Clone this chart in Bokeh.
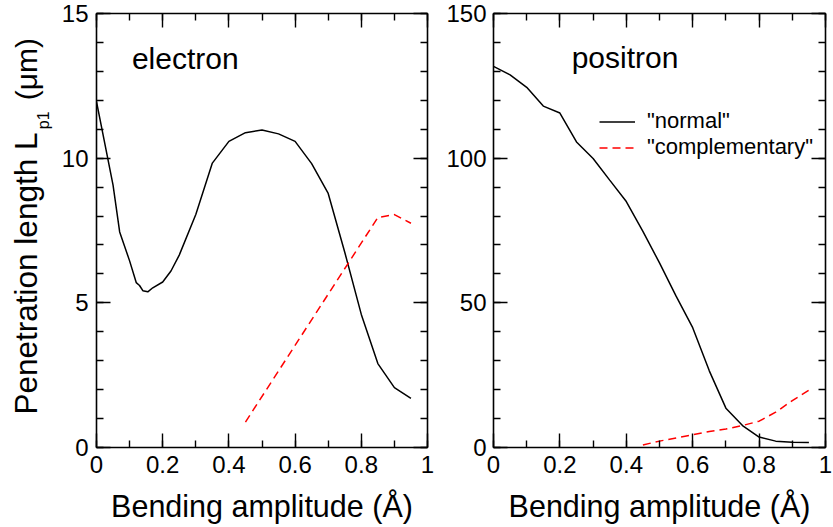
import numpy as np
from bokeh.plotting import figure
from bokeh.models import (LinearAxis, Range1d, SingleIntervalTicker, Label,
                          Legend, LegendItem)
from bokeh.layouts import row
from bokeh.embed import file_html
from bokeh.resources import INLINE
from bokeh.core.properties import value

FONT = "Liberation Sans"

# ---------------- data ----------------
# electron, "normal"
e_norm_x = [0.0, 0.05, 0.07, 0.1, 0.12, 0.13, 0.14, 0.155, 0.17, 0.2, 0.225, 0.25,
            0.3, 0.35, 0.4, 0.45, 0.5, 0.55, 0.6, 0.65, 0.7, 0.75, 0.8, 0.85, 0.9, 0.95]
e_norm_y = [11.95, 9.07, 7.45, 6.45, 5.7, 5.6, 5.42, 5.38, 5.52, 5.72, 6.1, 6.65,
            8.05, 9.83, 10.58, 10.88, 10.97, 10.84, 10.58, 9.81, 8.78, 6.75, 4.6, 2.9, 2.07, 1.7]
# electron, "complementary"
e_comp_x = [0.45, 0.85, 0.9, 0.95]
e_comp_y = [0.88, 7.95, 8.05, 7.75]

# positron, "normal"
p_norm_x = [0.0, 0.05, 0.1, 0.15, 0.2, 0.25, 0.3, 0.35, 0.4, 0.45, 0.5, 0.55, 0.6,
            0.65, 0.7, 0.75, 0.8, 0.85, 0.9, 0.95]
p_norm_y = [131.7, 128.8, 124.5, 118.0, 115.6, 105.6, 99.9, 92.4, 85.0, 74.7, 63.8,
            52.3, 41.4, 26.5, 13.6, 7.6, 3.6, 2.2, 1.8, 1.7]
# positron, "complementary"
p_comp_x = [0.45, 0.5, 0.55, 0.6, 0.65, 0.7, 0.75, 0.8, 0.85, 0.9, 0.95]
p_comp_y = [0.9, 2.2, 3.3, 4.4, 5.5, 6.4, 7.6, 9.1, 12.2, 16.2, 19.8]

x_label = "Bending amplitude (Å)"
y_label_main = "Penetration length L"
y_label_sub = "p1"
y_label_unit = "(μm)"
series_names = ['"normal"', '"complementary"']

LINE_W = 1.5
DASH = "8 5"
HEIGHT = 525
FRAME_TOP = 13
FRAME_H = 436
FRAME_BOTTOM = FRAME_TOP + FRAME_H
LBL_W = 58          # width of the strip holding the y-axis title


def style_axis(ax, show_labels, standoff=8):
    ax.axis_line_width = 1.6
    ax.axis_line_color = "black"
    ax.major_tick_in = 14
    ax.major_tick_out = 0
    ax.minor_tick_in = 7
    ax.minor_tick_out = 0
    ax.major_tick_line_width = 1.4
    ax.minor_tick_line_width = 1.4
    ax.major_tick_line_color = "black"
    ax.minor_tick_line_color = "black"
    ax.major_label_text_font = FONT
    if show_labels:
        ax.major_label_text_color = "black"
        ax.major_label_text_font_size = "24px"
        ax.major_label_standoff = standoff
    else:
        ax.major_label_text_color = None
        ax.major_label_text_font_size = "1px"
        ax.major_label_standoff = 0


def make_panel(width, left, right, ymax, yint, ystand):
    p = figure(width=width, height=HEIGHT, x_range=Range1d(0, 1), y_range=Range1d(0, ymax),
               output_backend="svg", toolbar_location=None,
               min_border_left=left, min_border_right=right,
               min_border_top=FRAME_TOP, min_border_bottom=HEIGHT - FRAME_BOTTOM)
    p.xgrid.visible = False
    p.ygrid.visible = False
    p.outline_line_color = None
    p.background_fill_color = "white"
    p.border_fill_color = "white"

    p.xaxis.ticker = SingleIntervalTicker(interval=0.2, num_minor_ticks=2)
    p.yaxis.ticker = SingleIntervalTicker(interval=yint, num_minor_ticks=5)
    p.xaxis.major_label_overrides = {0: "0", 1: "1"}
    for ax in p.xaxis:
        style_axis(ax, True, 8)
        ax.axis_label = x_label
        ax.axis_label_text_font = FONT
        ax.axis_label_text_font_size = "30.5px"
        ax.axis_label_text_font_style = "normal"
        ax.axis_label_text_color = "black"
        ax.axis_label_standoff = 13
    for ax in p.yaxis:
        style_axis(ax, True, ystand)

    top = LinearAxis(ticker=SingleIntervalTicker(interval=0.2, num_minor_ticks=2))
    rgt = LinearAxis(ticker=SingleIntervalTicker(interval=yint, num_minor_ticks=5))
    style_axis(top, False)
    style_axis(rgt, False)
    p.add_layout(top, "above")
    p.add_layout(rgt, "right")
    return p


# ---------------- strip with the y-axis title (rotated, with subscript) ----------------
p0 = figure(width=LBL_W, height=HEIGHT, x_range=Range1d(0, LBL_W), y_range=Range1d(0, HEIGHT),
            output_backend="svg", toolbar_location=None, x_axis_type=None, y_axis_type=None,
            min_border_left=0, min_border_right=0, min_border_top=0, min_border_bottom=0)
p0.xgrid.visible = False
p0.ygrid.visible = False
p0.outline_line_color = None
p0.background_fill_color = "white"
p0.border_fill_color = "white"
# main part ends just below the subscript
p0.text(x=[25.6], y=[HEIGHT - 144], text=[y_label_main],
        angle=np.pi / 2, text_align="right", text_baseline="middle",
        text_font=value(FONT), text_font_size="31.5px", text_color="black")
# subscript
p0.text(x=[42.5], y=[HEIGHT - 140], text=[y_label_sub],
        angle=np.pi / 2, text_align="left", text_baseline="middle",
        text_font=value(FONT), text_font_size="16px", text_color="black")
# unit
p0.text(x=[26.1], y=[HEIGHT - 105], text=[y_label_unit],
        angle=np.pi / 2, text_align="left", text_baseline="middle",
        text_font=value(FONT), text_font_size="30px", text_color="black")

# ---------------- left panel: electron ----------------
p1 = make_panel(38 + 331 + 12, 38, 12, 15, 5, 8)
p1.line(e_norm_x, e_norm_y, line_color="black", line_width=LINE_W)
p1.line(e_comp_x, e_comp_y, line_color="#ff0000", line_width=LINE_W, line_dash=DASH)
p1.add_layout(Label(x=0.107, y=13.45, text="electron", text_font=FONT,
                    text_font_size="30px", text_baseline="alphabetic", text_color="black"))

# ---------------- right panel: positron ----------------
p2 = make_panel(54 + 332 + 7, 54, 7, 150, 50, 7)
r_norm = p2.line(p_norm_x, p_norm_y, line_color="black", line_width=LINE_W)
r_comp = p2.line(p_comp_x, p_comp_y, line_color="#ff0000", line_width=LINE_W, line_dash=DASH)
p2.add_layout(Label(x=0.2355, y=134.8, text="positron", text_font=FONT,
                    text_font_size="30px", text_baseline="alphabetic", text_color="black"))

legend = Legend(items=[LegendItem(label=series_names[0], renderers=[r_norm]),
                       LegendItem(label=series_names[1], renderers=[r_comp])],
                location=(106, 287), border_line_color=None, background_fill_alpha=0,
                label_text_font=FONT, label_text_font_size="22px", label_text_color="black",
                glyph_width=36, glyph_height=25, label_height=25, label_standoff=12,
                padding=0, spacing=0, margin=0)
p2.add_layout(legend)

layout = row(p0, p1, p2)
open("out.html", "w").write(file_html(layout, INLINE))
